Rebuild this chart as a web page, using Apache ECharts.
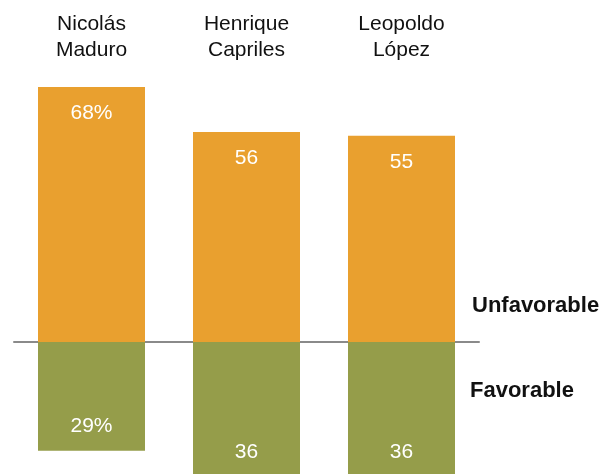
<!DOCTYPE html>
<html style="height: 100%">
<head>
    <meta charset="utf-8">
</head>
<body style="height: 100%; margin: 0; background: #fff">
<div id="container" style="width: 605px; height: 474px"></div>
<script type="text/javascript" src="https://cdn.jsdelivr.net/npm/echarts@6/dist/echarts.min.js"></script>
<script type="text/javascript">
    // data
    var people = ['Nicolás\nMaduro', 'Henrique\nCapriles', 'Leopoldo\nLópez'];
    var unfavorable = [68, 56, 55];
    var favorable = [29, 36, 36];
    var seriesNames = ['Unfavorable', 'Favorable'];

    var fontName = '"Liberation Sans", Arial, sans-serif';

    function pct(p) {
        var v = Math.abs(p.value);
        return p.dataIndex === 0 ? v + '%' : '' + v;
    }

    var dom = document.getElementById('container');
    var myChart = echarts.init(dom);
    var option = {
        backgroundColor: '#ffffff',
        animation: false,
        grid: {
            left: 14,
            right: 126,
            top: 87,
            bottom: 0
        },
        xAxis: [
            {
                type: 'category',
                data: people,
                axisLine: {onZero: true, lineStyle: {color: '#8a8a8a', width: 2}},
                axisTick: {show: false},
                axisLabel: {show: false}
            },
            {
                type: 'category',
                data: people,
                position: 'top',
                axisLine: {show: false},
                axisTick: {show: false},
                axisLabel: {
                    color: '#111111',
                    fontFamily: fontName,
                    fontSize: 21,
                    lineHeight: 26,
                    margin: 24
                }
            }
        ],
        yAxis: {
            type: 'value',
            min: -35.2,
            max: 68,
            show: false,
            splitLine: {show: false}
        },
        series: [
            {
                name: seriesNames[0],
                type: 'bar',
                data: unfavorable,
                barWidth: 107,
                barGap: '-100%',
                itemStyle: {color: '#e9a02f'},
                label: {
                    show: true,
                    position: 'insideTop',
                    distance: 16,
                    color: '#ffffff',
                    fontFamily: fontName,
                    fontSize: 21,
                    formatter: pct
                },
                z: 1
            },
            {
                name: seriesNames[1],
                type: 'bar',
                data: favorable.map(function (v) { return -v; }),
                barWidth: 107,
                clip: false,
                itemStyle: {color: '#959d4a'},
                label: {
                    show: true,
                    position: 'insideBottom',
                    distance: 14,
                    color: '#ffffff',
                    fontFamily: fontName,
                    fontSize: 21,
                    formatter: pct
                },
                z: 1
            }
        ],
        graphic: [
            {
                type: 'text',
                left: 472,
                top: 295,
                style: {text: seriesNames[0], fill: '#111', font: 'bold 22px ' + fontName}
            },
            {
                type: 'text',
                left: 470,
                top: 380,
                style: {text: seriesNames[1], fill: '#111', font: 'bold 22px ' + fontName}
            }
        ]
    };
    myChart.setOption(option, true);
</script>
</body>
</html>
